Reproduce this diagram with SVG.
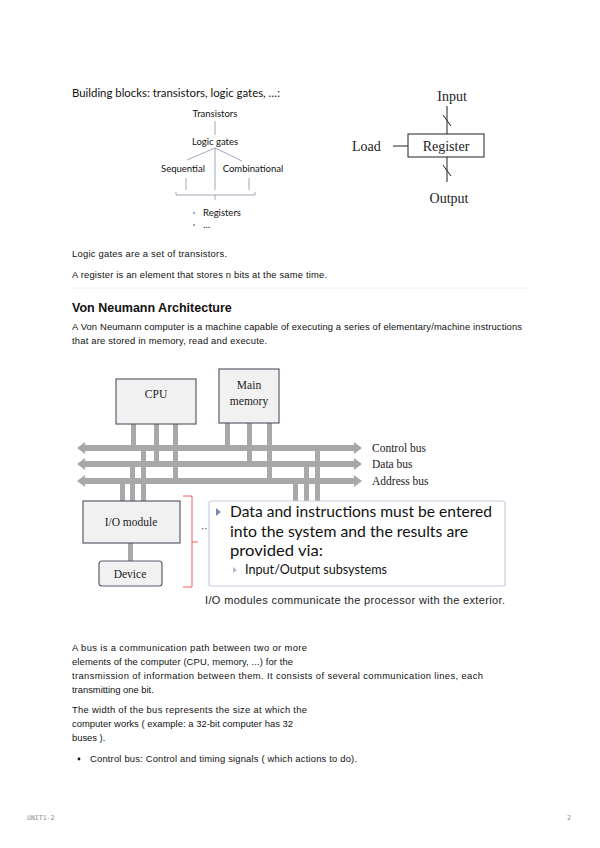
<svg xmlns="http://www.w3.org/2000/svg" width="600" height="848" viewBox="0 0 600 848">
<style>
.body{font-family:"Liberation Sans",Arial,sans-serif;font-size:9.4px;fill:#111}
.gs{font-family:Lato,"Open Sans",sans-serif;fill:#111}
.serif{font-family:"Liberation Serif","Times New Roman",serif;fill:#222}
.box{fill:#f1f1f1;stroke:#5a5e6e;stroke-width:1.2}
.bar{fill:#a8a8a8}
.thin{stroke:#8a93a8;stroke-width:0.8;fill:none}
.foot{font-family:"DejaVu Sans Mono",monospace;font-size:6.5px;fill:#888}
</style>
<rect width="600" height="848" fill="#fff"/>

<!-- Building blocks -->
<g id="building-blocks">
<text class="gs" x="72" y="97" font-size="10.6" textLength="208" lengthAdjust="spacingAndGlyphs">Building blocks:  transistors, logic gates, …:</text>
<text class="gs" x="215" y="117" font-size="9.5" text-anchor="middle">Transistors</text>
<text class="gs" x="215" y="145" font-size="9.5" text-anchor="middle">Logic gates</text>
<text class="gs" x="183" y="172" font-size="9.5" text-anchor="middle">Sequential</text>
<text class="gs" x="253" y="172" font-size="9.5" text-anchor="middle">Combinational</text>
<circle cx="194" cy="213" r="1.1" fill="#8a96b0"/>
<text class="gs" x="203" y="216" font-size="9.5">Registers</text>
<circle cx="194" cy="225" r="1.1" fill="#8a96b0"/>
<text class="gs" x="203" y="228" font-size="9.5">…</text>
</g>
<g id="tree-connectors">
<line class="thin" x1="215" y1="121" x2="215" y2="135"/>
<line class="thin" x1="215" y1="148" x2="187" y2="160"/>
<line class="thin" x1="215" y1="148" x2="242" y2="161"/>
<line class="thin" x1="215" y1="148" x2="215" y2="190"/>
<line class="thin" x1="186" y1="178" x2="186" y2="190"/>
<line class="thin" x1="249" y1="178" x2="249" y2="190"/>
<path class="thin" d="M176 192 V195 H255 V192 M215 195 V200"/>
</g>

<!-- Register -->
<g id="register">
<rect x="408" y="134" width="76" height="23" fill="#fff" stroke="#222" stroke-width="1"/>
<text class="serif" x="446" y="151" font-size="14" text-anchor="middle">Register</text>
<text class="serif" x="452" y="101" font-size="14" text-anchor="middle">Input</text>
<text class="serif" x="352" y="151" font-size="14">Load</text>
<text class="serif" x="449" y="203" font-size="14" text-anchor="middle">Output</text>
</g>
<g id="register-connectors" stroke="#222" stroke-width="1" fill="none">
<line x1="447" y1="106" x2="447" y2="134"/>
<line x1="443" y1="115" x2="451" y2="126"/>
<line x1="393" y1="146" x2="408" y2="146"/>
<line x1="447" y1="157" x2="447" y2="182"/>
<line x1="443" y1="165" x2="451" y2="176"/>
</g>

<g id="text-1">
<text class="body" x="72" y="257" textLength="155">Logic gates are a set of transistors.</text>
<text class="body" x="72" y="278" textLength="255">A register is an element that stores  n bits at the same time.</text>
<line x1="72" y1="288" x2="528" y2="288" stroke="#eee" stroke-width="1"/>
<text x="72" y="312" font-family="Liberation Sans,Arial,sans-serif" font-size="12.5" font-weight="bold" fill="#111">Von Neumann Architecture</text>
<text class="body" x="72" y="330" textLength="450">A Von Neumann computer is a machine capable of executing a series of elementary/machine instructions</text>
<text class="body" x="72" y="344" textLength="195">that are stored in memory, read and execute.</text>
</g>

<!-- Von Neumann diagram -->
<g id="connectors">
<path class="bar" d="M77 448 L85 442 V445 H354 V442 L362 448 L354 454 V451 H85 V454 Z"/>
<path class="bar" d="M77 464 L85 458 V461 H354 V458 L362 464 L354 470 V467 H85 V470 Z"/>
<path class="bar" d="M77 481 L85 475 V478 H354 V475 L362 481 L354 487 V484 H85 V487 Z"/>
<rect class="bar" x="131" y="424" width="5" height="24"/>
<rect class="bar" x="154" y="424" width="5" height="40"/>
<rect class="bar" x="173" y="424" width="5" height="57"/>
<rect class="bar" x="225" y="423" width="5" height="25"/>
<rect class="bar" x="247" y="423" width="5" height="41"/>
<rect class="bar" x="267" y="423" width="5" height="58"/>
<rect class="bar" x="120" y="481" width="5" height="20"/>
<rect class="bar" x="130" y="464" width="5" height="37"/>
<rect class="bar" x="141" y="448" width="5" height="53"/>
<rect class="bar" x="293" y="481" width="5" height="20"/>
<rect class="bar" x="304" y="464" width="5" height="37"/>
<rect class="bar" x="315" y="448" width="5" height="53"/>
<rect class="bar" x="128" y="543" width="5" height="18"/>
</g>
<g id="cpu">
<rect class="box" x="116" y="379" width="80" height="45"/>
<text class="serif" x="156" y="398" font-size="11.5" text-anchor="middle">CPU</text>
</g>
<g id="main-memory">
<rect class="box" x="219" y="369" width="60" height="54"/>
<text class="serif" x="249" y="389" font-size="11.5" text-anchor="middle">Main</text>
<text class="serif" x="249" y="405" font-size="11.5" text-anchor="middle">memory</text>
</g>
<g id="bus-labels">
<text class="serif" x="372" y="452" font-size="11.5">Control bus</text>
<text class="serif" x="372" y="468" font-size="11.5">Data bus</text>
<text class="serif" x="372" y="485" font-size="11.5">Address bus</text>
</g>
<g id="io-module">
<rect class="box" x="83" y="501" width="97" height="42"/>
<text class="serif" x="131" y="526" font-size="11.5" text-anchor="middle">I/O module</text>
</g>
<g id="device">
<rect class="box" x="99" y="561" width="63" height="25" rx="3"/>
<text class="serif" x="130" y="578" font-size="11.5" text-anchor="middle">Device</text>
</g>
<g id="brace">
<path d="M183 496 H192 V542 L198 542 M192 542 V587 H183" fill="none" stroke="#e53935" stroke-width="0.8"/>
<text x="201" y="532" font-family="Liberation Sans,sans-serif" font-size="10" fill="#333">··</text>
</g>
<g id="callout">
<rect x="209" y="501" width="296" height="85" rx="2" fill="#fff" stroke="#c5cde0" stroke-width="1.2"/>
<path d="M216 508 L221 512 L216 516 Z" fill="#7a8ab0"/>
<text class="gs" x="230" y="517" font-size="16" textLength="262" lengthAdjust="spacingAndGlyphs">Data and instructions must be entered</text>
<text class="gs" x="230" y="537" font-size="16" textLength="238" lengthAdjust="spacingAndGlyphs">into the system and the results are</text>
<text class="gs" x="230" y="556" font-size="16" textLength="93" lengthAdjust="spacingAndGlyphs">provided via:</text>
<path d="M233 567 L237 570 L233 573 Z" fill="#b0bad0"/>
<text class="gs" x="245" y="574" font-size="12.5" fill="#555" textLength="142" lengthAdjust="spacingAndGlyphs">Input/Output subsystems</text>
</g>
<text x="205" y="604" font-family="Liberation Sans,Arial,sans-serif" font-size="11" fill="#222" textLength="300">I/O modules communicate the processor with the exterior.</text>

<g id="text-2">
<text class="body" x="72" y="651" textLength="235">A bus is  a communication path between two or more</text>
<text class="body" x="72" y="665" textLength="221">elements of the computer (CPU, memory, ...) for the</text>
<text class="body" x="72" y="679" textLength="411">transmission of information between them. It consists of several communication lines, each</text>
<text class="body" x="72" y="693">transmitting one bit.</text>
<text class="body" x="72" y="713" textLength="235">The width of the bus represents the size at which the</text>
<text class="body" x="72" y="727" textLength="221">computer works ( example: a 32-bit computer has 32</text>
<text class="body" x="72" y="741">buses ).</text>
<circle cx="79" cy="759" r="1.4" fill="#111"/>
<text class="body" x="90" y="762" textLength="267">Control bus: Control and timing signals ( which actions to do).</text>
</g>
<text class="foot" x="27" y="820">UNIT1-2</text>
<text class="foot" x="567" y="820">2</text>
</svg>
